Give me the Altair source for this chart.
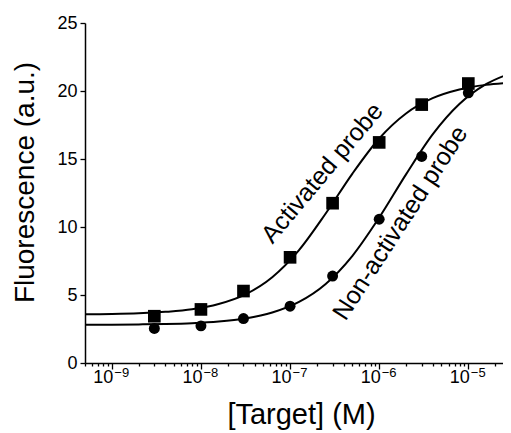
import altair as alt
import pandas as pd

# ---- data ----
conc = [3e-9, 1e-8, 3e-8, 1e-7, 3e-7, 1e-6, 3e-6, 1e-5]
activated = [3.44, 3.94, 5.29, 7.77, 11.75, 16.22, 19.0, 20.55]
non_activated = [2.54, 2.73, 3.27, 4.18, 6.39, 10.57, 15.19, 19.87]

fit_conc = [5.0e-10, 1e-9, 2.0e-9, 3.98e-9, 7.94e-9, 1.58e-8, 3.16e-8, 6.31e-8,
            1.26e-7, 2.51e-7, 5.01e-7, 1e-6, 2.0e-6, 3.98e-6, 7.94e-6, 1.58e-5, 3.16e-5]
fit_activated = [3.58, 3.60, 3.65, 3.76, 3.95, 4.34, 5.05, 6.31,
                 8.30, 10.99, 13.93, 16.51, 18.35, 19.47, 20.11, 20.45, 20.62]
fit_non_activated = [2.81, 2.82, 2.84, 2.87, 2.93, 3.05, 3.28, 3.71,
                     4.49, 5.81, 7.88, 10.69, 13.87, 16.81, 19.04, 20.50, 21.36]

decades = [1e-9, 1e-8, 1e-7, 1e-6, 1e-5]
exponents = ["\u22129", "\u22128", "\u22127", "\u22126", "\u22125"]
y_ticks = [0, 5, 10, 15, 20, 25]
X_MIN, X_MAX = 5e-10, 2.45e-5
x_ticks = [m * 10.0 ** e for e in range(-10, -4) for m in range(1, 10)
           if X_MIN <= m * 10.0 ** e <= X_MAX]

labels = ["Activated probe", "Non-activated probe"]
label_x = [2.29e-7, 1.72e-6]
label_y = [13.97, 10.3]
label_angle = [310, 303]

W, H = 418, 340
FONT = "Liberation Sans"

xscale = alt.Scale(type="log", domain=[X_MIN, X_MAX], nice=False)
yscale = alt.Scale(domain=[0, 25], nice=False, zero=False)

pts_a = pd.DataFrame({"conc": conc, "f": activated})
pts_n = pd.DataFrame({"conc": conc, "f": non_activated})
fit_a = pd.DataFrame({"conc": fit_conc, "f": fit_activated})
fit_n = pd.DataFrame({"conc": fit_conc, "f": fit_non_activated})
dec_df = pd.DataFrame({"conc": decades, "exp": exponents})

x_axis = alt.Axis(
    values=x_ticks, labels=False, grid=False,
    tickSize={"condition": {"test": "abs(log(datum.value)/LN10 - round(log(datum.value)/LN10)) < 0.001", "value": 6}, "value": 3},
    tickColor="black", tickWidth=1.3, domainColor="black", domainWidth=1.5,
    title="[Target] (M)", titleFontSize=29, titleFontWeight="normal", titleFont=FONT,
    titleX=216, titleY=60, titleAlign="center", titleBaseline="alphabetic", titleColor="black",
)
y_axis = alt.Axis(
    values=y_ticks, grid=False, tickSize=5, tickColor="black", tickWidth=1.3,
    domainColor="black", domainWidth=1.5, labelFontSize=18, labelFont=FONT,
    labelColor="black", labelPadding=3,
    title="Fluorescence (a.u.)", titleFontSize=28, titleFontWeight="normal", titleFont=FONT,
    titleAngle=270, titleX=-52, titleY=159, titleAlign="center", titleBaseline="alphabetic",
    titleColor="black",
)

X = alt.X("conc:Q", scale=xscale, axis=x_axis)
Y = alt.Y("f:Q", scale=yscale, axis=y_axis)

line_a = alt.Chart(fit_a).mark_line(color="black", strokeWidth=2, interpolate="monotone", clip=True).encode(x=X, y=Y)
line_n = alt.Chart(fit_n).mark_line(color="black", strokeWidth=2, interpolate="monotone", clip=True).encode(x=X, y=Y)
sq = alt.Chart(pts_a).mark_point(shape="square", filled=True, size=160, color="black", opacity=1).encode(x=X, y=Y)
ci = alt.Chart(pts_n).mark_point(shape="circle", filled=True, size=120, color="black", opacity=1).encode(x=X, y=Y)

lbl10 = alt.Chart(dec_df).mark_text(text="10", align="right", baseline="alphabetic", dx=1.5,
                                    fontSize=18, font=FONT, color="black").encode(
    x=X, y=alt.value(H + 20))
lblexp = alt.Chart(dec_df).mark_text(align="left", baseline="alphabetic", dx=2.5,
                                     fontSize=13, font=FONT, color="black").encode(
    x=X, y=alt.value(H + 14), text="exp:N")

ann = []
for t, lx, ly, ang in zip(labels, label_x, label_y, label_angle):
    d = pd.DataFrame({"conc": [lx], "f": [ly], "t": [t]})
    ann.append(alt.Chart(d).mark_text(angle=ang, align="center", baseline="middle",
                                      fontSize=25, font=FONT, color="black").encode(
        x=X, y=Y, text="t:N"))

chart = alt.layer(line_a, line_n, sq, ci, lbl10, lblexp, *ann).properties(
    width=W, height=H,
    autosize=alt.AutoSizeParams(type="none"),
    padding={"left": 77, "top": 15, "right": 0, "bottom": 67},
).configure(font=FONT).configure_view(stroke=None)

chart.save("out.html", embed_options={"renderer": "svg", "actions": False})
